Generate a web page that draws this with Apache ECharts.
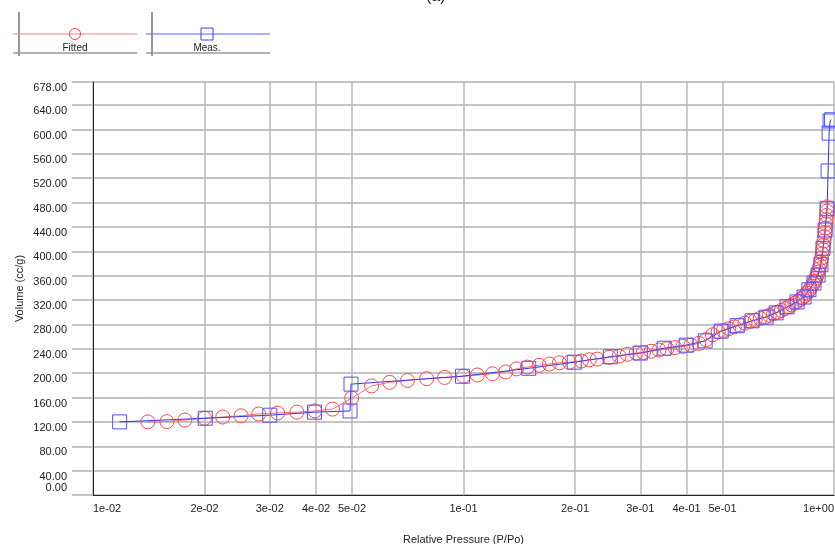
<!DOCTYPE html>
<html>
<head>
	<title></title>
	<script type="text/javascript" src="https://cdn.jsdelivr.net/npm/echarts@6/dist/echarts.min.js"></script>
</head>
<body style="margin:0;">
<div id="iso" style="width:835px;height:544px;"></div>
<script type="text/javascript">
// fitted curve (red circles)
var fittedP = [0.01406, 0.01583, 0.0177, 0.0200, 0.0224, 0.0251, 0.0280, 0.0315, 0.0355, 0.0397,
    0.0443, 0.0499, 0.0565, 0.0632, 0.0706, 0.0795, 0.0889, 0.100, 0.109, 0.1197,
    0.130, 0.139, 0.1488, 0.160, 0.1706, 0.1815, 0.193, 0.208, 0.2186, 0.2297,
    0.2475, 0.263, 0.2767, 0.2926, 0.306, 0.321, 0.337, 0.354, 0.372, 0.391,
    0.411, 0.432, 0.452, 0.470, 0.487, 0.503, 0.520, 0.538, 0.556, 0.575,
    0.594, 0.613, 0.632, 0.651, 0.669, 0.687, 0.704, 0.721, 0.738, 0.754,
    0.769, 0.784, 0.798, 0.811, 0.823, 0.834, 0.845, 0.855, 0.864, 0.872,
    0.880, 0.887, 0.894, 0.900, 0.906, 0.911, 0.916, 0.921, 0.925, 0.929,
    0.933, 0.937, 0.940, 0.943, 0.946, 0.948, 0.951, 0.953, 0.955, 0.957, 0.958];
var fittedV = [120, 120.5, 123, 126, 128, 130, 133, 134.6, 136, 138,
    141, 159, 179, 185, 188, 191, 193, 195, 197, 199,
    202, 207, 210, 213, 215, 217, 218, 220, 222, 223,
    226, 228, 231, 233, 234, 236, 238, 240, 242, 244,
    246, 249, 255, 263, 268, 270, 273, 276, 279, 282,
    285, 287, 290, 292, 295, 298, 300, 303, 306, 309,
    312, 315, 318, 321, 324, 327, 331, 335, 339, 343,
    347, 351, 356, 361, 366, 371, 377, 383, 389, 396,
    403, 410, 417, 424, 431, 438, 445, 452, 459, 466, 473];

// measured points (blue squares)
var measP = [0.0118, 0.0201, 0.0300, 0.0396, 0.0494, 0.0497, 0.0994, 0.150, 0.199, 0.249,
    0.300, 0.348, 0.399, 0.449, 0.496, 0.548, 0.601, 0.656, 0.698, 0.747,
    0.795, 0.830, 0.856, 0.883, 0.906, 0.922, 0.934, 0.946, 0.958, 0.964,
    0.970, 0.976, 0.985];
var measV = [120, 126, 131, 136, 138, 182, 195, 208, 218, 227,
    233, 241, 246, 253, 269, 278, 286, 292, 299, 309,
    317, 325, 337, 348, 361, 378, 405, 435, 470, 532,
    594, 614, 616];

var xTicks = [0.01, 0.02, 0.03, 0.04, 0.05, 0.1, 0.2, 0.3, 0.4, 0.5, 1];

function zip(a, b) {
    return a.map(function (v, i) { return [v, b[i]]; });
}
function expLabel(v) {
    var s = Number(v).toExponential(0);
    var m = s.split('e');
    var e = parseInt(m[1], 10);
    var ea = Math.abs(e);
    return m[0] + 'e' + (e < 0 ? '-' : '+') + (ea < 10 ? '0' : '') + ea;
}

var font = 'Liberation Sans, Arial, sans-serif';
var myChart = echarts.init(document.getElementById('iso'));
var option = {
    backgroundColor: '#fff',
    animation: false,
    grid: { left: 93, right: 1, top: 82, bottom: 49, outerBoundsMode: 'none', containLabel: false },
    graphic: [
        { type: 'text', left: 426, top: -17, style: { text: '(a)', font: '16px ' + font, fill: '#222' } },
        // legend: Fitted
        { type: 'line', shape: { x1: 19, y1: 12, x2: 19, y2: 56 }, style: { stroke: '#333', lineWidth: 1 } },
        { type: 'line', shape: { x1: 13, y1: 53, x2: 137, y2: 53 }, style: { stroke: '#999', lineWidth: 1.5 } },
        { type: 'line', shape: { x1: 13, y1: 34, x2: 137, y2: 34 }, style: { stroke: '#ff8080', lineWidth: 1 } },
        { type: 'circle', shape: { cx: 75, cy: 34, r: 5.5 }, style: { fill: 'none', stroke: '#ff4040', lineWidth: 1 } },
        { type: 'text', x: 75, y: 48, style: { text: 'Fitted', font: '10px ' + font, fill: '#222', align: 'center', verticalAlign: 'middle' } },
        // legend: Meas.
        { type: 'line', shape: { x1: 152, y1: 12, x2: 152, y2: 56 }, style: { stroke: '#333', lineWidth: 1 } },
        { type: 'line', shape: { x1: 146, y1: 53, x2: 270, y2: 53 }, style: { stroke: '#999', lineWidth: 1.5 } },
        { type: 'line', shape: { x1: 146, y1: 34, x2: 270, y2: 34 }, style: { stroke: '#6060ff', lineWidth: 1 } },
        { type: 'rect', shape: { x: 201, y: 28, width: 12, height: 12 }, style: { fill: 'none', stroke: '#4040ff', lineWidth: 1 } },
        { type: 'text', x: 207, y: 48, style: { text: 'Meas.', font: '10px ' + font, fill: '#222', align: 'center', verticalAlign: 'middle' } }
    ],
    xAxis: {
        type: 'log',
        min: 0.01,
        max: 1,
        name: 'Relative Pressure (P/Po)',
        nameLocation: 'middle',
        nameGap: 35,
        nameTextStyle: { fontSize: 11, fontFamily: font, color: '#222' },
        axisLine: { lineStyle: { color: '#222', width: 1 } },
        axisTick: { show: false, customValues: xTicks },
        axisLabel: {
            customValues: xTicks,
            fontSize: 11, fontFamily: font, color: '#222', margin: 4,
            alignMinLabel: 'left', alignMaxLabel: 'right',
            formatter: expLabel
        },
        splitLine: { show: true, lineStyle: { color: '#b8b8b8', width: 1.5 } },
        minorSplitLine: { show: false }
    },
    yAxis: [
        {
            type: 'value',
            min: 0,
            max: 678,
            interval: 40,
            axisLine: { show: true, lineStyle: { color: '#222', width: 1 } },
            axisTick: { show: true, length: 21, lineStyle: { color: '#c4c4c4', width: 2 } },
            axisLabel: {
                margin: 26,
                fontSize: 11, fontFamily: font, color: '#222',
                verticalAlign: 'top',
                lineHeight: 12,
                hideOverlap: false,
                formatter: function (v) { return v === 0 ? '' : v.toFixed(2); }
            },
            splitLine: { show: true, lineStyle: { color: '#c4c4c4', width: 2 } }
        },
        {
            // carries the axis name and the 0.00 label, which sits above its grid line
            type: 'value',
            position: 'left',
            min: 0,
            max: 678,
            name: 'Volume (cc/g)',
            nameLocation: 'middle',
            nameGap: 64,
            nameTextStyle: { fontSize: 11, fontFamily: font, color: '#222' },
            axisLine: { show: false },
            axisTick: { show: false },
            splitLine: { show: false },
            axisLabel: {
                customValues: [0],
                margin: 26,
                fontSize: 11, fontFamily: font, color: '#222',
                verticalAlign: 'bottom',
                lineHeight: 14,
                formatter: function (v) { return v.toFixed(2); }
            }
        }
    ],
    series: [
        {
            name: 'Fitted',
            type: 'line',
            data: zip(fittedP, fittedV),
            symbol: 'circle',
            symbolSize: 14,
            showAllSymbol: true,
            itemStyle: { color: 'rgba(0,0,0,0)', borderColor: '#ff4a4a', borderWidth: 1 },
            lineStyle: { color: '#ff7070', width: 1 }
        },
        {
            name: 'Meas.',
            type: 'line',
            data: zip(measP, measV),
            symbol: 'rect',
            symbolSize: 14,
            showAllSymbol: true,
            itemStyle: { color: 'rgba(0,0,0,0)', borderColor: '#5050ff', borderWidth: 1 },
            lineStyle: { color: '#3030ff', width: 1 }
        }
    ]
};
myChart.setOption(option);
</script>
</body>
</html>
